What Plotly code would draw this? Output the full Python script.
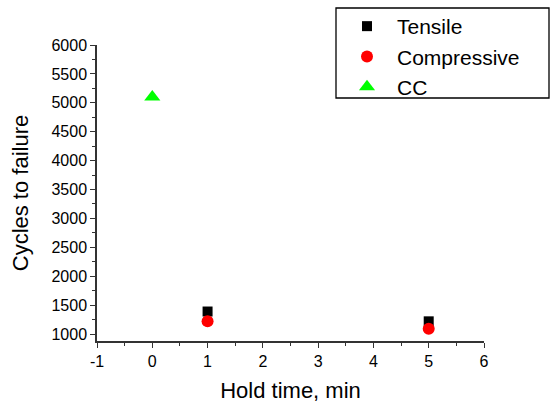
import plotly.graph_objects as go

tensile_x = [1, 5]
tensile_y = [1390, 1220]
comp_x = [1, 5]
comp_y = [1220, 1090]
cc_x = [0]
cc_y = [5100]

x_tickvals = [-1, 0, 1, 2, 3, 4, 5, 6]
x_ticktext = ["-1", "0", "1", "2", "3", "4", "5", "6"]
y_tickvals = [1000, 1500, 2000, 2500, 3000, 3500, 4000, 4500, 5000, 5500, 6000]

FONT = "Liberation Sans, Arial"
W, H = 551, 403
ML, MR, MT, MB = 97, 67, 45, 62
PW, PH = W - ML - MR, H - MT - MB

def px_to_paper_x(px):
    return (px - ML) / PW

def px_to_paper_y(py):
    return (H - MB - py) / PH

fig = go.Figure()
fig.add_trace(go.Scatter(x=tensile_x, y=tensile_y, mode="markers", name="Tensile",
                         marker=dict(symbol="square", size=10, color="black")))
fig.add_trace(go.Scatter(x=comp_x, y=comp_y, mode="markers", name="Compressive",
                         marker=dict(symbol="circle", size=12, color="red")))
fig.add_trace(go.Scatter(x=cc_x, y=cc_y, mode="markers", name="CC",
                         marker=dict(symbol="triangle-up", size=14, color="#00ff00")))

axis_common = dict(showgrid=False, zeroline=False, showline=True, linecolor="#333333", linewidth=1.5,
                   ticks="outside", ticklen=5, tickwidth=1, tickcolor="#333333",
                   tickfont=dict(family=FONT, size=16, color="black"),
                   title_font=dict(family=FONT, size=22, color="black"))
fig.update_xaxes(range=[-1, 6], tickvals=x_tickvals, ticktext=x_ticktext,
                 title_text="Hold time, min", title_standoff=16,
                 minor=dict(ticks="outside", ticklen=3, dtick=0.5, tick0=-1, tickcolor="#333333"),
                 **axis_common)
fig.update_yaxes(range=[880, 6000], tickvals=y_tickvals,
                 title_text="Cycles to failure", title_standoff=17,
                 minor=dict(ticks="outside", ticklen=3, dtick=250, tick0=1000, tickcolor="#333333"),
                 **axis_common)

# legend frame
fig.add_shape(type="rect", xref="paper", yref="paper",
              x0=px_to_paper_x(336), x1=px_to_paper_x(549),
              y0=px_to_paper_y(98), y1=px_to_paper_y(8),
              line=dict(color="black", width=1.3), fillcolor="rgba(0,0,0,0)", layer="above")

fig.update_layout(
    width=W, height=H,
    margin=dict(l=ML, r=MR, t=MT, b=MB, autoexpand=False),
    plot_bgcolor="white", paper_bgcolor="white",
    showlegend=True,
    legend=dict(xref="container", yref="container", x=337/W, y=1-6/H, xanchor="left", yanchor="top",
                borderwidth=0, bgcolor="rgba(0,0,0,0)",
                font=dict(family=FONT, size=21, color="black"),
                itemwidth=50, tracegroupgap=0),
)
fig.write_html("out.html")
